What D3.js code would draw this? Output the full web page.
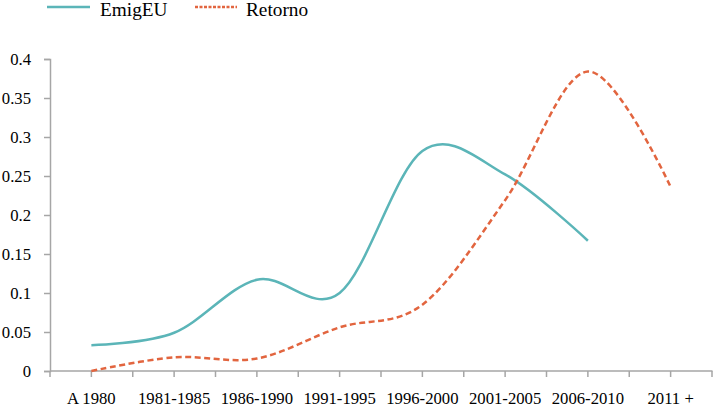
<!DOCTYPE html>
<html>
<head>
<meta charset="utf-8">
<script src="https://cdn.jsdelivr.net/npm/d3@7"></script>
<style>
  html, body { margin: 0; padding: 0; background: #fff; }
  svg { display: block; }
</style>
</head>
<body>
<svg id="chart" width="715" height="407"></svg>
<script>
const categories = ["A 1980", "1981-1985", "1986-1990", "1991-1995", "1996-2000", "2001-2005", "2006-2010", "2011 +"];
const emigEU = [0.033, 0.049, 0.117, 0.100, 0.282, 0.252, 0.167, null];
const retorno = [0.0, 0.0176, 0.016, 0.056, 0.085, 0.219, 0.384, 0.236];
const yTicks = [0, 0.05, 0.1, 0.15, 0.2, 0.25, 0.3, 0.35, 0.4];
const yTickLabels = ["0", "0.05", "0.1", "0.15", "0.2", "0.25", "0.3", "0.35", "0.4"];
const seriesNames = ["EmigEU", "Retorno"];

const FONT = "'Liberation Serif', 'Times New Roman', Times, serif";
const svg = d3.select("#chart");
const plotLeft = 50, plotRight = 712, plotTop = 59, plotBottom = 371;
const axisColor = "#A6A6A6";
const tealColor = "#5BB5B8";
const orangeColor = "#E2653F";

const x = d3.scaleBand().domain(categories).range([plotLeft, plotRight]).padding(0);
const y = d3.scaleLinear().domain([0, 0.4]).range([plotBottom, plotTop]);
const cx = c => x(c) + x.bandwidth() / 2;

// Y axis
const yAxis = svg.append("g").attr("transform", `translate(${plotLeft},0)`)
  .call(d3.axisLeft(y).tickValues(yTicks).tickFormat((d, i) => yTickLabels[i]).tickSize(6).tickPadding(13));
yAxis.attr("font-family", null).attr("font-size", null);
yAxis.select(".domain").attr("stroke", axisColor).attr("stroke-width", 1.5);
yAxis.selectAll(".tick line").attr("stroke", axisColor).attr("stroke-width", 1.5);
yAxis.selectAll(".tick text").style("font-size", "16.7px")
  .style("font-family", FONT).attr("fill", "#000");

// X axis: ticks at band boundaries and centres
const halfTicks = [];
categories.forEach(c => { halfTicks.push(x(c)); halfTicks.push(cx(c)); });
halfTicks.push(plotRight);
const xg = svg.append("g");
xg.append("line").attr("x1", plotLeft).attr("x2", plotRight + 0.5).attr("y1", plotBottom).attr("y2", plotBottom)
  .attr("stroke", axisColor).attr("stroke-width", 1.5);
xg.selectAll("line.t").data(halfTicks).join("line").attr("class", "t")
  .attr("x1", d => d).attr("x2", d => d).attr("y1", plotBottom).attr("y2", plotBottom + 6)
  .attr("stroke", axisColor).attr("stroke-width", 1.5);
xg.selectAll("text").data(categories).join("text")
  .attr("x", d => cx(d)).attr("y", 404).attr("text-anchor", "middle")
  .style("font-size", "16.7px").style("font-family", FONT).attr("fill", "#000").text(d => d);

// Lines
const line = d3.line()
  .defined(d => d.v !== null)
  .x(d => cx(d.c)).y(d => y(d.v))
  .curve(d3.curveCardinal.tension(0));

const emigData = categories.map((c, i) => ({ c, v: emigEU[i] }));
const retData = categories.map((c, i) => ({ c, v: retorno[i] }));

svg.append("path").datum(emigData).attr("d", line)
  .attr("fill", "none").attr("stroke", tealColor).attr("stroke-width", 2.5);
svg.append("path").datum(retData).attr("d", line)
  .attr("fill", "none").attr("stroke", orangeColor).attr("stroke-width", 2.5)
  .attr("stroke-dasharray", "6,3.5");

// Legend
const legend = svg.append("g");
legend.append("line").attr("x1", 47).attr("x2", 90).attr("y1", 7).attr("y2", 7)
  .attr("stroke", tealColor).attr("stroke-width", 2.5);
legend.append("text").attr("x", 100).attr("y", 16).style("font-size", "19.3px")
  .style("font-family", FONT).attr("fill", "#000").text(seriesNames[0]);
legend.append("line").attr("x1", 195).attr("x2", 237).attr("y1", 7).attr("y2", 7)
  .attr("stroke", orangeColor).attr("stroke-width", 2.5).attr("stroke-dasharray", "3,1.5");
legend.append("text").attr("x", 246).attr("y", 16).style("font-size", "19.3px")
  .style("font-family", FONT).attr("fill", "#000").text(seriesNames[1]);
</script>
</body>
</html>
